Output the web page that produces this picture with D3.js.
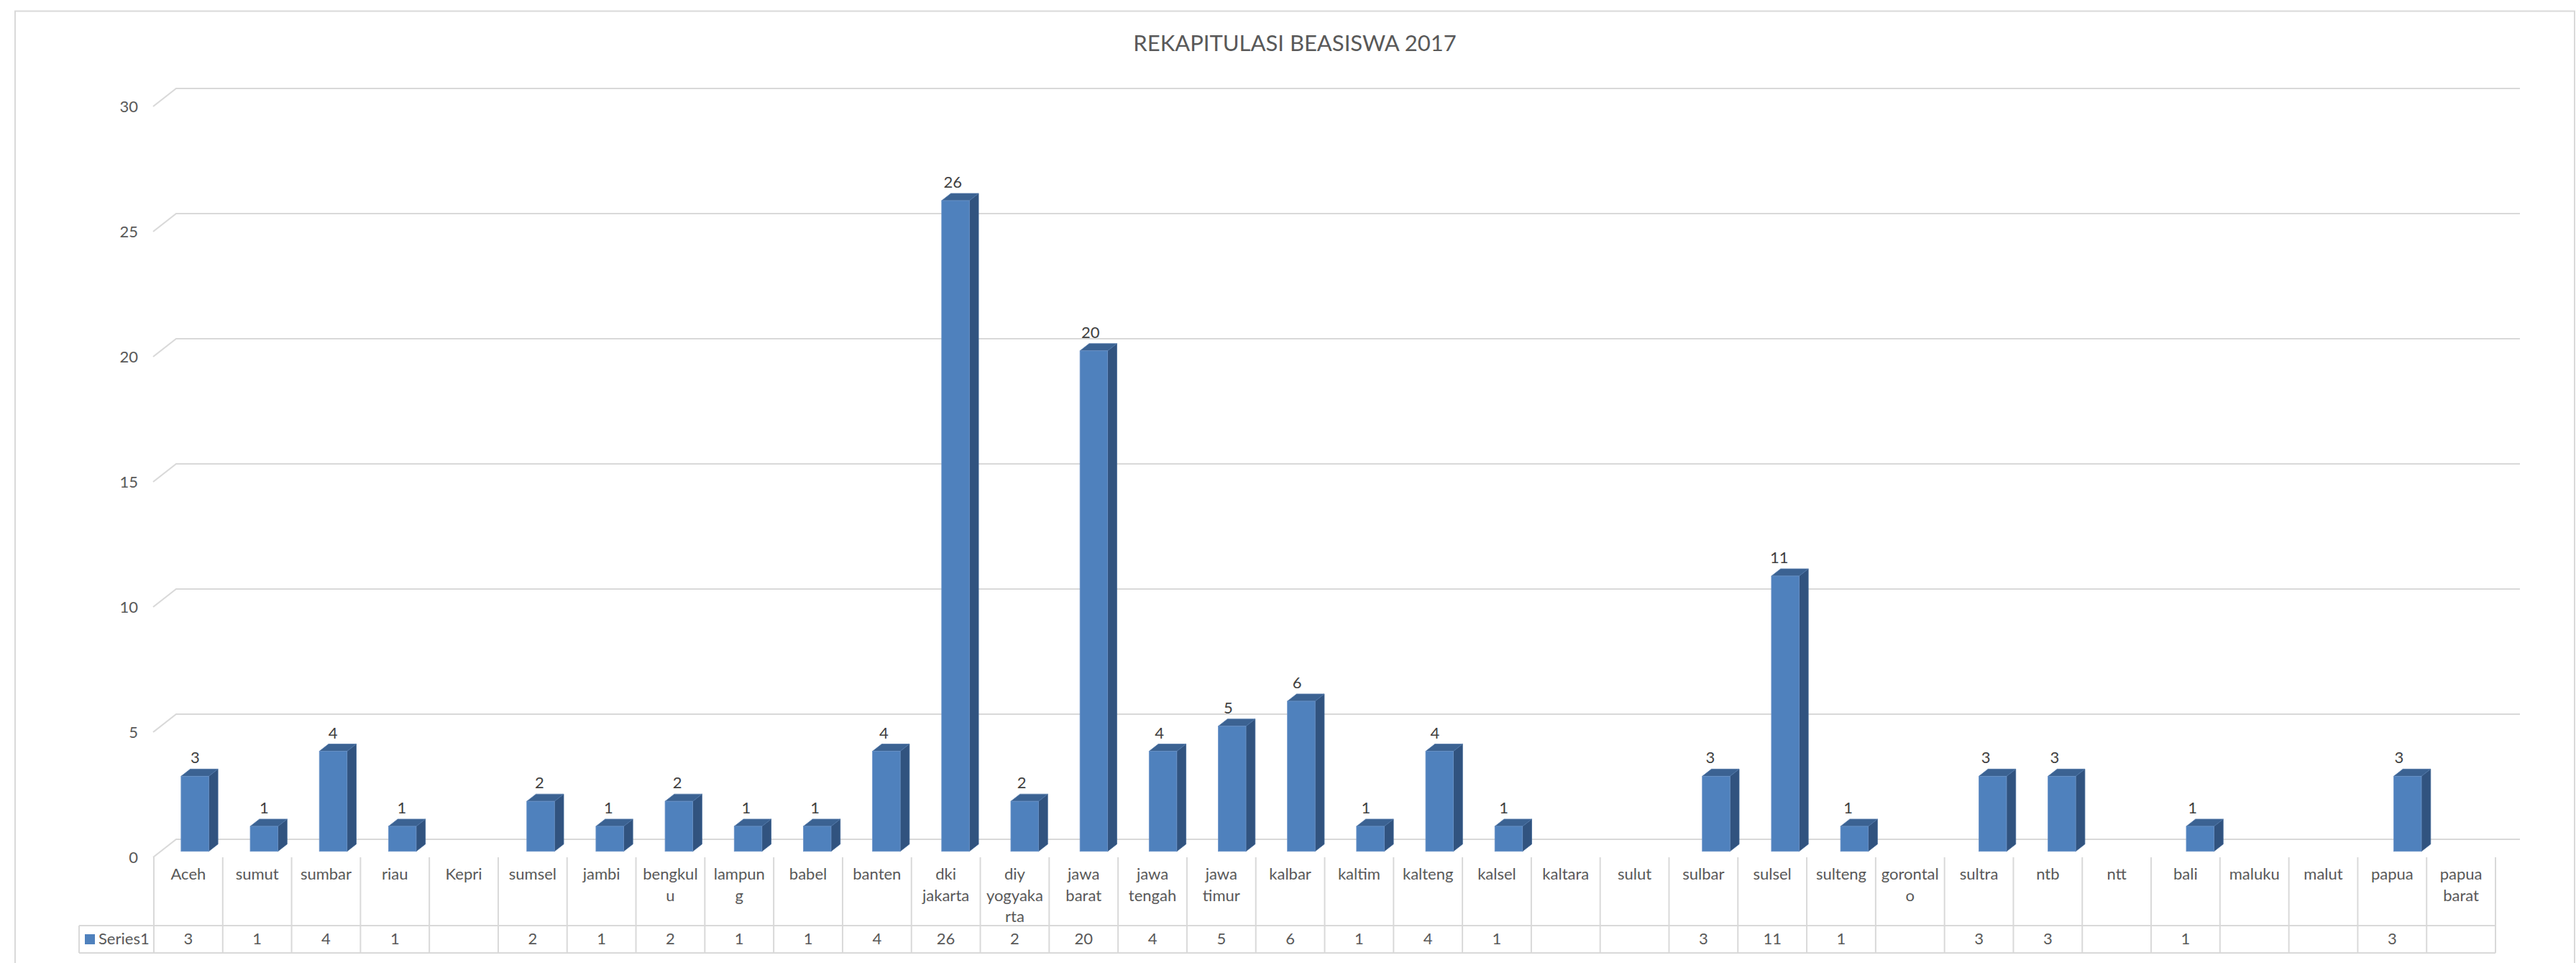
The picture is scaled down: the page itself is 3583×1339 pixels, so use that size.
<!DOCTYPE html>
<html>
<head>
<meta charset="utf-8">
<script src="https://cdn.jsdelivr.net/npm/d3@7"></script>
<style>
  html, body { margin: 0; padding: 0; background: #fff; }
  svg { display: block; }
  text { font-family: Lato, "Open Sans", "Liberation Sans", sans-serif; }
</style>
</head>
<body>
<svg id="chart" width="3583" height="1339"></svg>
<script>
// ---- data ----
const title = "REKAPITULASI BEASISWA 2017";
const seriesName = "Series1";
const categories = ["Aceh","sumut","sumbar","riau","Kepri","sumsel","jambi","bengkulu","lampung","babel","banten","dki jakarta","diy yogyakarta","jawa barat","jawa tengah","jawa timur","kalbar","kaltim","kalteng","kalsel","kaltara","sulut","sulbar","sulsel","sulteng","gorontalo","sultra","ntb","ntt","bali","maluku","malut","papua","papua barat"];
const categoryLabelLines = [["Aceh"],["sumut"],["sumbar"],["riau"],["Kepri"],["sumsel"],["jambi"],["bengkul","u"],["lampun","g"],["babel"],["banten"],["dki","jakarta"],["diy","yogyaka","rta"],["jawa","barat"],["jawa","tengah"],["jawa","timur"],["kalbar"],["kaltim"],["kalteng"],["kalsel"],["kaltara"],["sulut"],["sulbar"],["sulsel"],["sulteng"],["gorontal","o"],["sultra"],["ntb"],["ntt"],["bali"],["maluku"],["malut"],["papua"],["papua","barat"]];
const values = [3,1,4,1,null,2,1,2,1,1,4,26,2,20,4,5,6,1,4,1,null,null,3,11,1,null,3,3,null,1,null,null,3,null];
const yTicks = [0,5,10,15,20,25,30];

// ---- layout ----
const svg = d3.select("#chart");
const W = 3583, H = 1339;
const depth = {dx: 32, dy: -25};     // floor front -> back wall offset
const barFront = 0.33, barDepth = 0.4; // bar position within depth
const gridColor = "#d9d9d9";
const textColor = "#595959";

svg.append("rect").attr("x", 21).attr("y", 15.5).attr("width", 3560).attr("height", 1360)
  .attr("fill", "#fff").attr("stroke", gridColor).attr("stroke-width", 2);

svg.append("text").attr("x", 1801).attr("y", 71).attr("text-anchor", "middle")
  .attr("font-size", 31).attr("fill", textColor).text(title);

// scales (front floor plane)
const xTable = d3.scaleBand().domain(categories).range([214, 3471]).padding(0);
const xBar = d3.scaleBand().domain(categories).range([223, 3493]).paddingInner(0.6).paddingOuter(0.3);
const yFront = d3.scaleLinear().domain([0, 30]).range([1192, 148]);
const backLeft = 213 + depth.dx, backRight = 3505;

// gridlines on back wall + slanted ticks
const grid = svg.append("g");
yTicks.forEach(v => {
  const yf = yFront(v), yb = yf + depth.dy;
  grid.append("path")
    .attr("d", `M213,${yf} L${backLeft},${yb} L${backRight},${yb}`)
    .attr("fill", "none").attr("stroke", gridColor).attr("stroke-width", 2.2);
});

// y axis labels
svg.append("g").selectAll("text").data(yTicks).join("text")
  .attr("x", 192).attr("y", d => yFront(d)).attr("dy", "0.36em")
  .attr("text-anchor", "end").attr("font-size", 22).attr("fill", textColor)
  .text(d => d);

// bars (3D)
const data = categories.map((c, i) => ({c, v: values[i], i})).filter(d => d.v != null);
const ox = depth.dx * barFront, oy = depth.dy * barFront;
const sx = depth.dx * barDepth, sy = depth.dy * barDepth;
const bars = svg.append("g").selectAll("g").data(data).join("g");
const bw = xBar.bandwidth();
bars.each(function(d) {
  const g = d3.select(this);
  const x0 = xBar(d.c);
  const yb = yFront(0) + oy, yt = yFront(d.v) + oy;
  // side
  g.append("path").attr("d", `M${x0+bw},${yb} L${x0+bw+sx},${yb+sy} L${x0+bw+sx},${yt+sy} L${x0+bw},${yt} Z`)
    .attr("fill", "#31537f").attr("stroke", "#3e6494").attr("stroke-width", 0.8);
  // top
  g.append("path").attr("d", `M${x0},${yt} L${x0+sx},${yt+sy} L${x0+bw+sx},${yt+sy} L${x0+bw},${yt} Z`)
    .attr("fill", "#3b6292").attr("stroke", "#5077a8").attr("stroke-width", 0.8);
  // front
  g.append("rect").attr("x", x0).attr("y", yt).attr("width", bw).attr("height", yb - yt)
    .attr("fill", "#4f81bd").attr("stroke", "#6b93c8").attr("stroke-width", 0.8);
});

// data labels
svg.append("g").selectAll("text").data(data).join("text")
  .attr("x", d => xTable(d.c) + xTable.bandwidth()/2 + 9.6)
  .attr("y", d => yFront(d.v) + oy - 18)
  .attr("text-anchor", "middle").attr("font-size", 22).attr("fill", "#404040")
  .text(d => d.v);

// data table
const tbl = svg.append("g");
const tTop = 1192, tMid = 1287, tBot = 1325;
categories.concat(["__end"]).forEach((c, i) => {
  const x = i < categories.length ? xTable(c) : xTable.range()[1];
  tbl.append("line").attr("x1", x).attr("x2", x).attr("y1", tTop).attr("y2", tBot)
    .attr("stroke", gridColor).attr("stroke-width", 2);
});
[tMid, tBot].forEach(y => tbl.append("line").attr("x1", 110).attr("x2", 3471).attr("y1", y).attr("y2", y)
  .attr("stroke", gridColor).attr("stroke-width", 2));
tbl.append("line").attr("x1", 110).attr("x2", 110).attr("y1", tMid).attr("y2", tBot)
  .attr("stroke", gridColor).attr("stroke-width", 2);

// category labels
categories.forEach((c, i) => {
  const t = tbl.append("text").attr("x", xTable(c) + xTable.bandwidth()/2).attr("y", 1223)
    .attr("text-anchor", "middle").attr("font-size", 22).attr("fill", textColor);
  categoryLabelLines[i].forEach((ln, k) => {
    t.append("tspan").attr("x", xTable(c) + xTable.bandwidth()/2).attr("y", 1223 + k * 29.5).text(ln);
  });
});

// values row
tbl.selectAll("text.val").data(categories.map((c, i) => ({c, v: values[i]})).filter(d => d.v != null))
  .join("text").attr("class", "val")
  .attr("x", d => xTable(d.c) + xTable.bandwidth()/2).attr("y", 1313)
  .attr("text-anchor", "middle").attr("font-size", 22).attr("fill", textColor)
  .text(d => d.v);

// legend key
tbl.append("rect").attr("x", 118).attr("y", 1299).attr("width", 14).attr("height", 14).attr("fill", "#4f81bd");
tbl.append("text").attr("x", 137).attr("y", 1313).attr("font-size", 22).attr("fill", textColor).text(seriesName);
</script>
</body>
</html>
